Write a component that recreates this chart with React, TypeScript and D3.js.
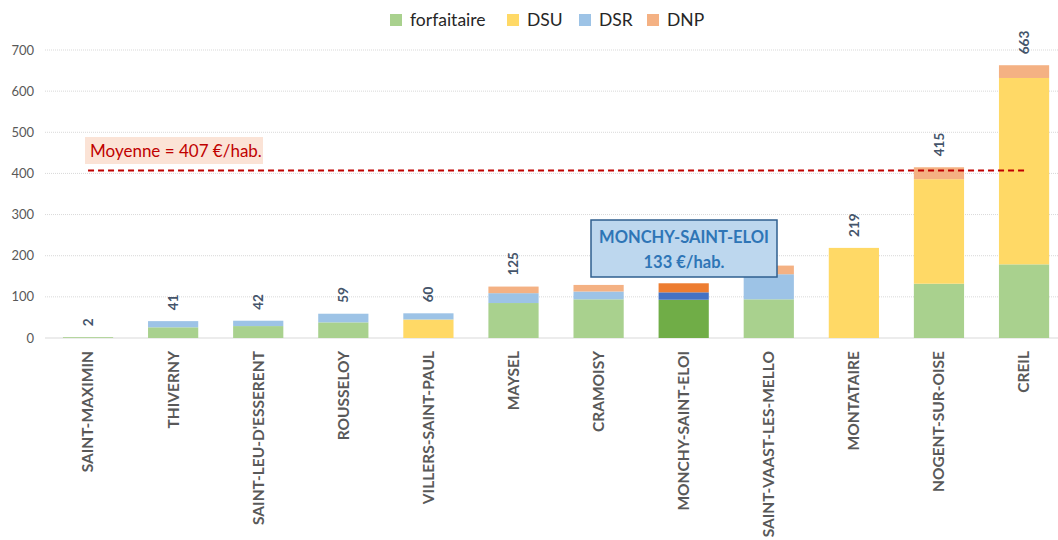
import * as d3 from 'd3';

const communes = [
  'SAINT-MAXIMIN', 'THIVERNY', "SAINT-LEU-D'ESSERENT", 'ROUSSELOY', 'VILLERS-SAINT-PAUL', 'MAYSEL',
  'CRAMOISY', 'MONCHY-SAINT-ELOI', 'SAINT-VAAST-LES-MELLO', 'MONTATAIRE', 'NOGENT-SUR-OISE', 'CREIL',
];
const forfaitaire = [2, 26, 29, 38, 0, 85, 94, 93, 94, 0, 132, 179];
const dsu = [0, 0, 0, 0, 45, 0, 0, 0, 0, 219, 254, 453];
const dsr = [0, 15, 13, 21, 15, 24, 19, 18, 61, 0, 0, 0];
const dnp = [0, 0, 0, 0, 0, 16, 16, 22, 21, 0, 29, 31];
const totals = [2, 41, 42, 59, 60, 125, 129, 133, 176, 219, 415, 663];
const yTicks = [0, 100, 200, 300, 400, 500, 600, 700];
const moyenne = 407;
const highlight = 'MONCHY-SAINT-ELOI';

const seriesNames = ['forfaitaire', 'DSU', 'DSR', 'DNP'];
const colors = ['#A9D18E', '#FFD966', '#9DC3E6', '#F4B183'];
const highlightColors = ['#70AD47', '#FFC000', '#4472C4', '#ED7D31'];

const W = 1058;
const H = 540;
const font = 'Lato, "Open Sans", sans-serif';

export default function App() {
  const rows = communes.map((c, i) => ({
    commune: c,
    forfaitaire: forfaitaire[i],
    DSU: dsu[i],
    DSR: dsr[i],
    DNP: dnp[i],
    total: totals[i],
  }));

  const x = d3.scaleBand().domain(communes).range([45.5, 1066.6]).paddingInner(0.41).paddingOuter(0.205);
  const y = d3.scaleLinear().domain([0, 700]).range([338, 50]);
  const stacked = d3.stack<any>().keys(seriesNames)(rows);

  const hi = rows.find(r => r.commune === highlight)!;
  const legendX = [390, 507, 579, 647];

  return (
    <svg width={W} height={H} style={{ position: 'absolute', left: 0, top: 0, background: '#fff' }}>
      {/* grid */}
      {yTicks.map(t => (
        <g key={t}>
          {t > 0 && (
            <line x1={45} x2={W} y1={y(t)} y2={y(t)} stroke="#D9D9D9" strokeWidth={1} strokeDasharray="1,1" />
          )}
          <text x={34} y={y(t)} dy="0.35em" textAnchor="end" fontFamily={font} fontSize={13} fill="#595959">
            {t}
          </text>
        </g>
      ))}
      <line x1={45} x2={W} y1={y(0)} y2={y(0)} stroke="#D9D9D9" strokeWidth={1} />

      {/* bars */}
      {stacked.map((s, si) => (
        <g key={s.key}>
          {s.map((d, i) => {
            const h = y(d[0]) - y(d[1]);
            if (h <= 0) return null;
            const isHi = communes[i] === highlight;
            return (
              <rect
                key={i}
                x={x(communes[i])!}
                y={y(d[1])}
                width={x.bandwidth()}
                height={h}
                fill={isHi ? highlightColors[si] : colors[si]}
              />
            );
          })}
        </g>
      ))}

      {/* value labels */}
      {rows.map(r => {
        const cx = x(r.commune)! + x.bandwidth() / 2;
        const top = y(d3.sum(seriesNames, k => (r as any)[k])) - 11;
        return (
          <text
            key={r.commune}
            transform={`translate(${cx},${top}) rotate(-90)`}
            dy="0.35em"
            fontFamily={font}
            fontSize={13.5}
            fontWeight="bold"
            fill="#44546A"
          >
            {r.total}
          </text>
        );
      })}

      {/* category labels */}
      {communes.map(c => (
        <text
          key={c}
          transform={`translate(${x(c)! + x.bandwidth() / 2},351) rotate(-90)`}
          dy="0.35em"
          textAnchor="end"
          fontFamily={font}
          fontSize={15.5}
          fontWeight="bold"
          fill="#595959"
        >
          {c}
        </text>
      ))}

      {/* moyenne */}
      <line
        x1={x(communes[0])! + x.bandwidth() / 2}
        x2={x(communes[communes.length - 1])! + x.bandwidth() / 2}
        y1={y(moyenne)}
        y2={y(moyenne)}
        stroke="#C00000"
        strokeWidth={2}
        strokeDasharray="6,4"
      />
      <rect x={85} y={137} width={178} height={27} fill="#FBE3D6" />
      <text x={90} y={151} dy="0.35em" fontFamily={font} fontSize={17} fill="#C00000">
        Moyenne = {moyenne} €/hab.
      </text>

      {/* highlight box */}
      <rect x={591} y={220} width={186} height={57} fill="#BDD7EE" stroke="#2F5F8F" strokeWidth={1.5} />
      <text x={684} y={237} dy="0.35em" textAnchor="middle" fontFamily={font} fontSize={16.5} fontWeight="bold" fill="#2E75B6">
        {highlight}
      </text>
      <text x={684} y={262} dy="0.35em" textAnchor="middle" fontFamily={font} fontSize={16.5} fontWeight="bold" fill="#2E75B6">
        {hi.total} €/hab.
      </text>

      {/* legend */}
      {seriesNames.map((s, i) => (
        <g key={s}>
          <rect x={legendX[i]} y={14} width={12} height={12} fill={colors[i]} />
          <text x={legendX[i] + 20} y={20} dy="0.35em" fontFamily={font} fontSize={17.5} fill="#262626">
            {s}
          </text>
        </g>
      ))}
    </svg>
  );
}
